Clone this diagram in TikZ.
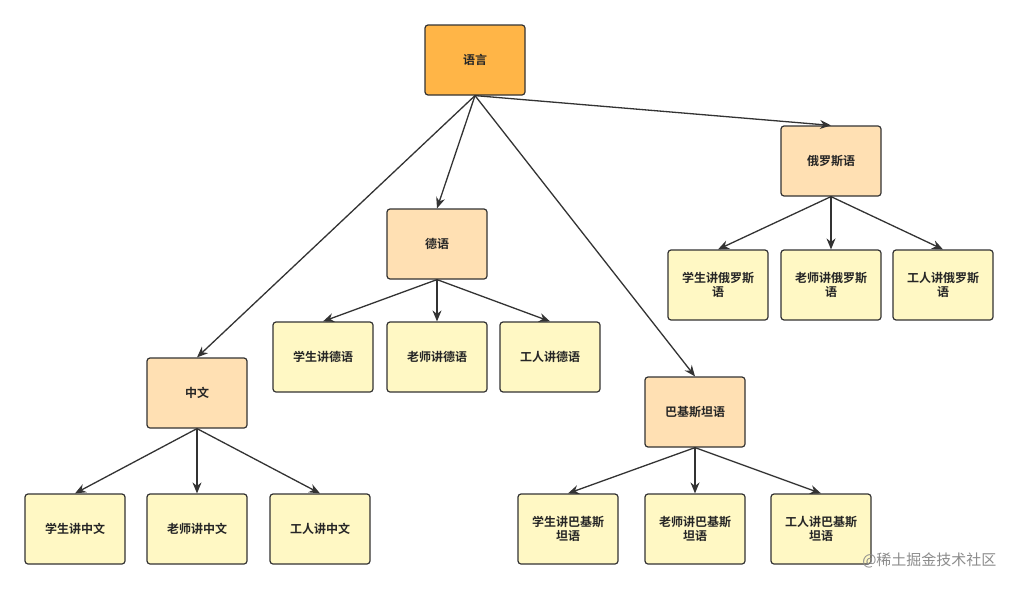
\documentclass[tikz,border=0pt]{standalone}
\usepackage{fontspec}
\setmainfont{Noto Sans CJK SC}[BoldFont={Noto Sans CJK SC Bold}]
\usetikzlibrary{arrows.meta}
\definecolor{rootc}{HTML}{FFB547}
\definecolor{midc}{HTML}{FFE0B3}
\definecolor{leafc}{HTML}{FFF8C4}
\definecolor{edgec}{HTML}{333333}
\begin{document}
\begin{tikzpicture}[x=1pt,y=-1pt,
  box/.style={draw=edgec,line width=1.2pt,rounded corners=3pt,minimum width=100pt,minimum height=70pt,inner sep=2pt,align=center,font=\fontsize{12}{14}\selectfont\bfseries,text=black!85},
  rootbox/.style={box,fill=rootc},
  midbox/.style={box,fill=midc},
  leafbox/.style={box,fill=leafc},
  arr/.style={draw=edgec,line width=1.3pt,-{Stealth[length=11pt,width=9pt]}}]
\useasboundingbox (0,0) rectangle (1017,589);
\fill[white] (0,0) rectangle (1017,589);
\node[rootbox] (root) at (475,60) {语言};
\node[midbox] (ru) at (831,161) {俄罗斯语};
\node[midbox] (de) at (437,244) {德语};
\node[midbox] (zh) at (197,393) {中文};
\node[midbox] (pk) at (695,412) {巴基斯坦语};
\node[leafbox] (ru1) at (718,285) {学生讲俄罗斯\\语};
\node[leafbox] (ru2) at (831,285) {老师讲俄罗斯\\语};
\node[leafbox] (ru3) at (943,285) {工人讲俄罗斯\\语};
\node[leafbox] (de1) at (323,357) {学生讲德语};
\node[leafbox] (de2) at (437,357) {老师讲德语};
\node[leafbox] (de3) at (550,357) {工人讲德语};
\node[leafbox] (zh1) at (75,529) {学生讲中文};
\node[leafbox] (zh2) at (197,529) {老师讲中文};
\node[leafbox] (zh3) at (320,529) {工人讲中文};
\node[leafbox] (pk1) at (568,529) {学生讲巴基斯\\坦语};
\node[leafbox] (pk2) at (695,529) {老师讲巴基斯\\坦语};
\node[leafbox] (pk3) at (821,529) {工人讲巴基斯\\坦语};
\foreach \c in {ru,de,zh,pk} \draw[arr] (root.south) -- (\c.north);
\foreach \p in {ru,de,zh,pk} \foreach \i in {1,2,3} \draw[arr] (\p.south) -- (\p\i.north);
\node[text=black!45,font=\fontsize{15}{17}\selectfont,anchor=east] (wm) at (1000,560) {@稀土掘金技术社区};
\end{tikzpicture}
\end{document}
